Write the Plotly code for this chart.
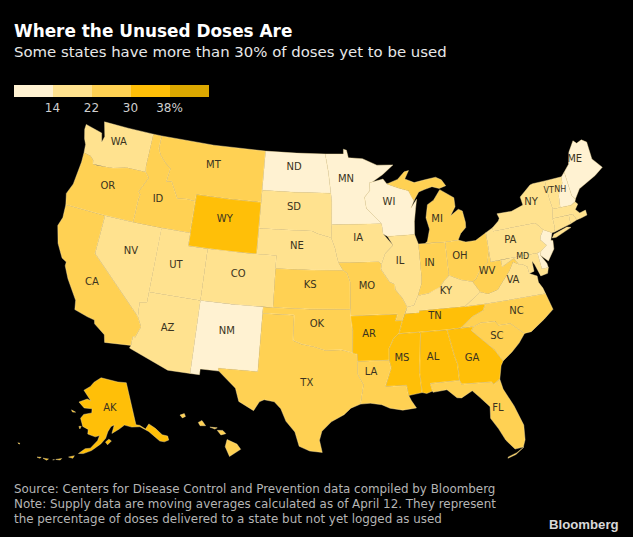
import numpy as np
import plotly.graph_objects as go

# rough state outlines, (lon, lat)
states = {
    "WA": [[(-124.7,48.4),(-123.2,48.15),(-122.75,48.1),(-122.45,47.4),(-122.3,47.9),(-122.8,49.0),(-120,49.0),(-117.03,49.0),(-117.04,46.42),(-116.92,45.99),(-118.98,46.0),(-119.3,45.93),(-120.5,45.7),(-121.2,45.65),(-122.2,45.58),(-122.7,45.6),(-122.8,45.9),(-123.2,46.15),(-124.0,46.27),(-124.1,46.9),(-124.4,47.3),(-124.7,48.0)]],
    "OR": [[(-124.0,46.27),(-123.2,46.15),(-122.8,45.9),(-122.7,45.6),(-122.2,45.58),(-121.2,45.65),(-120.5,45.7),(-119.3,45.93),(-118.98,46.0),(-116.92,45.99),(-116.46,45.6),(-116.85,44.95),(-117.2,44.4),(-116.95,44.2),(-117.03,43.8),(-117.03,42.0),(-120.0,42.0),(-124.2,42.0),(-124.5,42.85),(-124.1,43.7),(-124.05,44.7),(-123.95,45.5)]],
    "CA": [[(-124.2,42.0),(-120.0,42.0),(-120.0,39.0),(-114.63,35.0),(-114.15,34.27),(-114.5,33.4),(-114.72,33.4),(-114.72,32.72),(-117.12,32.53),(-117.3,33.1),(-118.4,33.75),(-118.5,34.03),(-119.2,34.15),(-120.5,34.45),(-120.65,35.15),(-121.9,36.6),(-122.5,37.5),(-122.5,37.8),(-123.0,38.0),(-123.8,39.0),(-124.35,40.3),(-124.1,41.0)]],
    "NV": [[(-120.0,42.0),(-117.03,42.0),(-114.04,42.0),(-114.05,36.2),(-114.74,36.1),(-114.63,35.0),(-120.0,39.0)]],
    "ID": [[(-117.03,49.0),(-116.05,49.0),(-116.05,48.0),(-115.7,47.5),(-115.0,47.0),(-114.35,46.65),(-114.5,45.6),(-113.95,45.7),(-113.45,45.05),(-113.0,44.45),(-112.0,44.55),(-111.05,44.48),(-111.05,42.0),(-114.04,42.0),(-117.03,42.0),(-117.03,43.8),(-116.95,44.2),(-117.2,44.4),(-116.85,44.95),(-116.46,45.6),(-116.92,45.99),(-117.04,46.42)]],
    "MT": [[(-116.05,49.0),(-110,49.0),(-104.05,49.0),(-104.05,45.0),(-107.5,45.0),(-111.05,45.0),(-111.05,44.48),(-112.0,44.55),(-113.0,44.45),(-113.45,45.05),(-113.95,45.7),(-114.5,45.6),(-114.35,46.65),(-115.0,47.0),(-115.7,47.5),(-116.05,48.0)]],
    "WY": [[(-111.05,45),(-107.5,45),(-104.05,45),(-104.05,41),(-107.5,41),(-111.05,41)]],
    "UT": [[(-114.05,42),(-111.05,42),(-111.05,41),(-109.05,41),(-109.05,37),(-114.05,37)]],
    "CO": [[(-109.05,41),(-105.5,41),(-102.05,41),(-102.05,37),(-105.5,37),(-109.05,37)]],
    "AZ": [[(-114.05,37),(-109.05,37),(-109.05,31.33),(-111.07,31.33),(-114.81,32.5),(-114.72,32.72),(-114.72,33.4),(-114.5,33.4),(-114.15,34.27),(-114.63,35.0),(-114.74,36.1),(-114.05,36.2)]],
    "NM": [[(-109.05,37),(-106,37),(-103.0,37),(-103.04,32),(-106.62,32),(-106.53,31.78),(-108.21,31.78),(-108.21,31.33),(-109.05,31.33)]],
    "ND": [[(-104.05,49),(-100.5,49),(-97.23,49),(-96.85,47.6),(-96.56,45.94),(-100.5,45.94),(-104.05,45.94)]],
    "SD": [[(-104.05,45.94),(-100.5,45.94),(-96.56,45.94),(-96.45,45.3),(-96.45,43.5),(-96.5,42.5),(-97.9,42.8),(-98.5,43.0),(-101.5,43.0),(-104.05,43.0)]],
    "NE": [[(-104.05,43),(-101.5,43),(-98.5,43),(-97.9,42.8),(-96.5,42.5),(-96.1,41.7),(-95.9,41.0),(-95.75,40.58),(-95.3,40.0),(-98.5,40),(-102.05,40.0),(-102.05,41),(-104.05,41)]],
    "KS": [[(-102.05,40),(-98.5,40),(-95.3,40),(-94.9,39.8),(-94.6,39.1),(-94.62,37.0),(-98.5,37),(-102.05,37)]],
    "OK": [[(-103.0,37),(-102.05,37),(-98.5,37),(-94.62,37.0),(-94.43,35.4),(-94.48,33.64),(-95.5,33.9),(-97.0,33.85),(-98.0,34.1),(-99.2,34.3),(-100.0,34.56),(-100.0,36.5),(-103.0,36.5)]],
    "TX": [[(-103.0,36.5),(-100,36.5),(-100,34.56),(-99.2,34.3),(-98,34.1),(-97,33.85),(-95.5,33.9),(-94.48,33.64),(-94.04,33.55),(-94.04,33.0),(-94.04,32.0),(-93.55,31.2),(-93.75,30.3),(-93.85,29.7),(-94.7,29.4),(-95.3,28.9),(-96.4,28.35),(-97.2,27.6),(-97.4,26.9),(-97.15,25.96),(-98.2,26.05),(-99.1,26.4),(-99.5,27.5),(-100.3,28.3),(-100.8,29.25),(-101.4,29.77),(-102.3,29.88),(-102.7,29.7),(-103.15,28.98),(-104.5,29.6),(-104.9,30.6),(-106.53,31.78),(-106.62,32),(-103.04,32)]],
    "MN": [[(-97.23,49),(-95.15,49),(-95.15,49.38),(-94.8,49.3),(-94.6,48.7),(-93.0,48.6),(-91.4,48.05),(-89.6,48.0),(-90.8,47.3),(-92.0,46.75),(-92.3,46.7),(-92.3,46.1),(-92.9,45.6),(-92.75,44.75),(-91.2,43.5),(-96.45,43.5),(-96.45,45.3),(-96.56,45.94),(-96.85,47.6)]],
    "IA": [[(-96.45,43.5),(-91.2,43.5),(-91.1,42.7),(-90.15,41.8),(-91.0,41.2),(-91.42,40.38),(-91.7,40.6),(-95.75,40.58),(-95.9,41.0),(-96.1,41.7),(-96.5,42.5)]],
    "MO": [[(-95.75,40.58),(-91.7,40.6),(-91.42,40.38),(-91.5,40.0),(-90.7,39.0),(-90.2,38.8),(-90.2,38.4),(-89.55,37.7),(-89.15,37.0),(-89.4,36.5),(-89.7,36.0),(-90.38,36.0),(-90.15,36.5),(-94.62,36.5),(-94.62,37.0),(-94.6,39.1),(-94.9,39.8),(-95.3,40)]],
    "AR": [[(-94.62,36.5),(-90.15,36.5),(-90.38,36.0),(-89.7,36.0),(-90.1,35.0),(-90.6,34.7),(-91.1,33.9),(-91.15,33.0),(-94.04,33.0),(-94.04,33.55),(-94.48,33.64),(-94.43,35.4)]],
    "LA": [[(-94.04,33.0),(-91.15,33.0),(-91.0,32.4),(-91.6,31.0),(-89.73,31.0),(-89.6,30.2),(-89.4,29.8),(-89.0,29.2),(-90.2,29.1),(-91.3,29.3),(-92.0,29.6),(-93.0,29.75),(-93.85,29.7),(-93.75,30.3),(-93.55,31.2),(-94.04,32.0)]],
    "WI": [[(-92.0,46.75),(-90.8,46.95),(-90.4,46.55),(-89.1,46.15),(-88.1,45.9),(-87.8,45.35),(-87.6,45.1),(-88.0,44.55),(-87.3,45.2),(-87.5,44.5),(-87.75,43.5),(-87.85,42.5),(-90.65,42.5),(-91.1,42.7),(-91.2,43.5),(-92.75,44.75),(-92.9,45.6),(-92.3,46.1),(-92.3,46.7)]],
    "IL": [[(-90.65,42.5),(-87.85,42.5),(-87.55,41.75),(-87.53,39.3),(-87.6,38.7),(-88.05,37.8),(-88.5,37.1),(-89.15,37.0),(-89.55,37.7),(-90.2,38.4),(-90.2,38.8),(-90.7,39.0),(-91.5,40.0),(-91.42,40.38),(-91.0,41.2),(-90.15,41.8)]],
    "IN": [[(-87.55,41.75),(-87.2,41.75),(-86.82,41.76),(-84.8,41.7),(-84.82,39.1),(-85.4,38.7),(-85.8,38.3),(-86.3,38.1),(-87.0,37.9),(-88.05,37.8),(-87.6,38.7),(-87.53,39.3)]],
    "OH": [[(-84.8,41.7),(-83.45,41.72),(-82.7,41.5),(-81.7,41.5),(-80.52,41.98),(-80.52,40.65),(-80.85,39.7),(-81.7,39.2),(-82.2,38.6),(-82.6,38.4),(-83.7,38.65),(-84.82,39.1)]],
    "KY": [[(-89.4,36.5),(-89.15,37.0),(-88.5,37.1),(-88.05,37.8),(-87.0,37.9),(-86.3,38.1),(-85.8,38.3),(-85.4,38.7),(-84.82,39.1),(-83.7,38.65),(-82.6,38.4),(-82.0,37.55),(-83.68,36.6),(-88.07,36.65),(-88.07,36.5)]],
    "TN": [[(-89.7,36.0),(-89.4,36.5),(-88.07,36.5),(-88.07,36.65),(-83.68,36.6),(-81.68,36.59),(-82.0,36.1),(-83.1,35.75),(-84.32,35.0),(-85.6,34.98),(-88.2,35.0),(-90.1,35.0)]],
    "MS": [[(-90.1,35.0),(-88.2,35.0),(-88.1,34.9),(-88.47,31.9),(-88.4,30.35),(-89.6,30.2),(-89.73,31.0),(-91.6,31.0),(-91.0,32.4),(-91.15,33.0),(-91.1,33.9),(-90.6,34.7)]],
    "AL": [[(-88.2,35.0),(-85.6,34.98),(-85.18,32.87),(-85.0,32.3),(-85.0,31.0),(-87.6,31.0),(-87.45,30.4),(-88.0,30.25),(-88.4,30.35),(-88.47,31.9),(-88.1,34.9)]],
    "GA": [[(-85.6,34.98),(-84.32,35.0),(-83.1,35.0),(-83.35,34.7),(-82.6,34.0),(-81.5,33.0),(-80.9,32.05),(-81.15,31.7),(-81.45,30.7),(-82.05,30.37),(-82.2,30.57),(-84.86,30.7),(-85.0,31.0),(-85.0,32.3),(-85.18,32.87)]],
    "FL": [[(-87.6,31.0),(-85.0,31.0),(-84.86,30.7),(-82.2,30.57),(-82.05,30.37),(-81.45,30.7),(-81.3,29.9),(-80.6,28.5),(-80.05,26.9),(-80.15,25.75),(-80.4,25.2),(-81.1,25.15),(-81.75,25.95),(-82.2,26.9),(-82.75,27.8),(-82.65,28.7),(-83.4,29.5),(-84.0,30.1),(-85.0,29.65),(-85.4,29.7),(-86.2,30.4),(-87.45,30.3)],
           [(-80.35,25.2),(-80.6,25.05),(-81.1,24.72),(-81.8,24.52),(-81.75,24.62),(-81.0,24.85),(-80.5,25.15)]],
    "SC": [[(-83.35,34.7),(-83.1,35.0),(-82.4,35.2),(-81.05,35.15),(-80.8,34.82),(-79.67,34.8),(-78.55,33.86),(-79.2,33.2),(-80.0,32.6),(-80.9,32.05),(-81.5,33.0),(-82.6,34.0)]],
    "NC": [[(-81.68,36.59),(-75.87,36.55),(-75.5,35.25),(-76.5,34.65),(-77.9,33.9),(-78.55,33.86),(-79.67,34.8),(-80.8,34.82),(-81.05,35.15),(-82.4,35.2),(-83.1,35.0),(-84.32,35.0),(-83.1,35.75),(-82.0,36.1)]],
    "VA": [[(-83.68,36.6),(-81.68,36.59),(-75.87,36.55),(-76.0,37.0),(-76.3,37.5),(-76.3,38.0),(-77.0,38.3),(-77.05,38.85),(-77.5,39.1),(-77.83,39.13),(-78.35,39.4),(-78.85,38.8),(-79.3,38.4),(-80.3,37.5),(-81.3,37.3),(-82.0,37.55)]],
    "WV": [[(-82.6,38.4),(-82.0,37.55),(-81.3,37.3),(-80.3,37.5),(-79.3,38.4),(-78.85,38.8),(-78.35,39.4),(-77.83,39.13),(-78.2,39.68),(-79.48,39.2),(-79.48,39.72),(-80.52,39.72),(-80.52,40.65),(-80.85,39.7),(-81.7,39.2),(-82.2,38.6)]],
    "MD": [[(-79.48,39.72),(-75.79,39.72),(-75.7,38.46),(-75.05,38.45),(-75.25,38.03),(-75.95,37.95),(-76.3,38.9),(-76.5,39.2),(-76.5,38.4),(-77.0,38.3),(-77.05,38.85),(-77.5,39.1),(-77.83,39.13),(-78.2,39.68),(-79.48,39.2)]],
    "DE": [[(-75.79,39.72),(-75.4,39.8),(-75.55,39.5),(-75.1,38.8),(-75.05,38.45),(-75.7,38.46)]],
    "PA": [[(-80.52,41.98),(-79.76,42.27),(-79.76,42.0),(-75.35,42.0),(-74.7,41.36),(-75.1,40.95),(-75.2,40.65),(-74.72,40.15),(-75.4,39.8),(-75.79,39.72),(-80.52,39.72)]],
    "NJ": [[(-74.7,41.36),(-75.1,40.95),(-75.2,40.65),(-74.72,40.15),(-75.4,39.8),(-75.55,39.5),(-74.9,38.95),(-74.1,39.75),(-74.0,40.4),(-74.2,40.45),(-73.9,41.0)]],
    "NY": [[(-79.76,42.27),(-79.05,42.7),(-78.9,42.9),(-79.05,43.27),(-77.5,43.25),(-76.2,43.55),(-76.3,44.2),(-75.0,44.95),(-74.7,45.0),(-73.35,45.0),(-73.35,43.6),(-73.25,42.75),(-73.5,42.05),(-73.5,41.3),(-73.65,41.0),(-73.9,41.0),(-74.7,41.36),(-75.35,42.0),(-79.76,42.0)],
           [(-74.0,40.6),(-73.75,40.85),(-72.3,41.15),(-71.9,41.05),(-73.6,40.58)]],
    "VT": [[(-73.35,45.0),(-71.5,45.0),(-71.6,44.5),(-72.05,44.1),(-72.3,43.6),(-72.45,42.73),(-73.25,42.75),(-73.35,43.6)]],
    "NH": [[(-71.5,45.0),(-71.08,45.3),(-70.98,43.4),(-70.7,43.07),(-70.82,42.87),(-71.3,42.7),(-72.45,42.73),(-72.3,43.6),(-72.05,44.1),(-71.6,44.5)]],
    "ME": [[(-71.08,45.3),(-70.4,45.8),(-70.25,46.2),(-70.0,46.7),(-69.22,47.46),(-68.9,47.2),(-68.3,47.35),(-67.8,47.07),(-67.8,45.7),(-67.45,45.3),(-67.0,44.85),(-68.0,44.4),(-69.0,44.1),(-70.0,43.75),(-70.7,43.07),(-70.98,43.4)]],
    "MA": [[(-73.5,42.05),(-73.25,42.75),(-72.45,42.73),(-71.3,42.7),(-70.82,42.87),(-70.6,42.65),(-71.0,42.3),(-70.65,41.95),(-70.0,42.05),(-70.0,41.65),(-70.65,41.55),(-71.12,41.5),(-71.38,42.02),(-71.8,42.02)]],
    "CT": [[(-73.5,42.05),(-71.8,42.02),(-71.85,41.32),(-73.65,41.0),(-73.5,41.3)]],
    "RI": [[(-71.8,42.02),(-71.38,42.02),(-71.12,41.5),(-71.85,41.32)]],
    "MI": [[(-86.82,41.76),(-84.8,41.7),(-83.45,41.72),(-83.1,42.2),(-82.5,42.6),(-82.45,43.0),(-82.6,43.9),(-83.0,44.07),(-83.9,43.65),(-83.3,44.3),(-83.3,45.0),(-84.7,45.75),(-85.5,45.0),(-86.2,44.7),(-86.5,43.7),(-86.25,42.8),(-86.6,41.9)],
           [(-90.4,46.55),(-89.2,46.85),(-88.4,47.4),(-87.9,47.47),(-88.4,46.85),(-87.4,46.5),(-86.1,46.65),(-85.0,46.75),(-84.4,46.5),(-84.0,46.0),(-84.75,45.85),(-85.5,46.05),(-86.3,45.9),(-87.0,45.75),(-87.6,45.1),(-87.8,45.35),(-88.1,45.9),(-89.1,46.15)]],
    "HI": [[(-155.9,20.25),(-155.1,19.9),(-154.8,19.5),(-155.7,18.95),(-156.05,19.7)],
           [(-156.7,20.95),(-156.25,20.95),(-156.0,20.7),(-156.4,20.6)],
           [(-158.25,21.55),(-157.95,21.7),(-157.65,21.3),(-158.1,21.3)],
           [(-159.75,22.1),(-159.4,22.22),(-159.3,22.0),(-159.55,21.88)],
           [(-157.3,21.2),(-156.7,21.15),(-156.9,21.05)]],
    "AK": [[(-141,69.65),(-141,60.3),(-139.5,60.0),(-137.5,58.9),(-135.5,59.75),(-133.5,58.4),(-131.8,56.6),(-130.0,55.9),(-130.2,55.0),(-132.0,55.0),(-133.5,55.5),(-135.5,57.5),(-136.5,58.2),(-139.5,59.7),(-143,60),(-146,60.7),(-148.5,60),(-151.8,59.2),(-150.5,61.0),(-152.0,60.7),(-153.5,59.6),(-154.5,58.2),(-156.5,57.0),(-160,55.5),(-163,54.7),(-164.8,54.6),(-162.5,55.8),(-160.5,56.0),(-157.8,57.7),(-157.0,58.8),(-158.8,58.5),(-162,59.0),(-162.0,60.0),(-164.5,60.5),(-165.5,61.5),(-166,62.2),(-164.8,63.1),(-161.0,63.6),(-161,64.5),(-165,64.5),(-168.1,65.6),(-164,66.5),(-162,66.2),(-163.7,67.1),(-166.5,68.3),(-163,69.3),(-161,70.3),(-156.6,71.35),(-152,70.85),(-146,70.15)],
           [(-154.6,57.4),(-153.2,58.0),(-152.2,57.6),(-153.8,56.8)],
           [(-168.2,53.5),(-166.2,54.0),(-166.6,53.4)],
           [(-172.5,52.4),(-170.5,52.9),(-170.9,52.5)],
           [(-176.9,51.9),(-175.0,52.1),(-175.5,51.7)],
           [(-179.0,51.7),(-177.6,51.95),(-178.0,51.65)],
           [(-173.5,52.15),(-172.9,52.3),(-173.2,52.05)],
           [(-187.2,52.9),(-186.4,53.0),(-186.6,52.75)],
           [(-171.0,63.6),(-168.8,63.3),(-170.3,63.2)],
           [(-166.2,60.4),(-165.2,60.5),(-165.6,59.9)]],
}

# one value per state
values = {"AL": 34, "AK": 34, "AZ": 18, "AR": 34, "CA": 26, "CO": 18, "CT": 18, "DE": 10, "FL": 26, "GA": 34,
          "HI": 26, "ID": 26, "IL": 18, "IN": 26, "IA": 18, "KS": 26, "KY": 18, "LA": 26, "ME": 10, "MD": 18,
          "MA": 18, "MI": 26, "MN": 10, "MS": 34, "MO": 26, "MT": 26, "NE": 18, "NV": 18, "NH": 10, "NJ": 10,
          "NM": 10, "NY": 18, "NC": 26, "ND": 10, "OH": 26, "OK": 26, "OR": 26, "PA": 18, "RI": 18, "SC": 26,
          "SD": 18, "TN": 34, "TX": 26, "UT": 18, "VT": 18, "VA": 18, "WA": 18, "WV": 26, "WI": 10, "WY": 34}

labels = {"WA": (-120.6,47.7), "OR": (-120.5,44.2), "CA": (-119.6,36.8), "NV": (-116.6,39.75), "ID": (-115.0,44.1),
          "MT": (-109.7,47.4), "WY": (-107.7,43.4), "UT": (-111.95,39.4), "CO": (-105.7,39.3), "AZ": (-111.7,34.5),
          "NM": (-106.2,34.85), "ND": (-100.7,47.85), "SD": (-100.5,44.8), "NE": (-100.0,41.8), "KS": (-98.55,38.85),
          "OK": (-97.8,35.8), "TX": (-98.6,31.3), "MN": (-94.9,47.0), "IA": (-93.7,42.4), "MO": (-92.96,38.7),
          "AR": (-92.9,35.05), "LA": (-92.85,32.1), "WI": (-90.3,45.1), "IL": (-89.55,40.5), "IN": (-86.6,40.2),
          "OH": (-83.5,40.45), "MI": (-85.35,43.5), "KY": (-85.3,37.9), "TN": (-86.6,36.1), "MS": (-89.98,33.1),
          "AL": (-87.15,33.0), "GA": (-83.65,32.55), "FL": (-82.0,28.5), "SC": (-81.1,34.0), "NC": (-78.9,35.6),
          "VA": (-78.7,38.0), "WV": (-81.05,39.0), "PA": (-78.2,41.1), "NY": (-75.3,43.6), "VT": (-73.2,44.2),
          "NH": (-72.0,44.0), "ME": (-69.6,46.05), "MD": (-77.3,39.65), "AK": (-152.0,64.5)}


def albers(lon, lat, lon0, lat0, p1, p2):
    lon, lat = np.radians(lon), np.radians(lat)
    lon0, lat0, p1, p2 = np.radians([lon0, lat0, p1, p2])
    n = (np.sin(p1) + np.sin(p2)) / 2
    c = np.cos(p1) ** 2 + 2 * n * np.sin(p1)
    rho = np.sqrt(c - 2 * n * np.sin(lat)) / n
    rho0 = np.sqrt(c - 2 * n * np.sin(lat0)) / n
    theta = n * (lon - lon0)
    return rho * np.sin(theta), rho0 - rho * np.cos(theta)


# the page is 633x537, so the axes below are in page pixels
def project(code, lon, lat):
    lon, lat = np.asarray(lon, float), np.asarray(lat, float)
    if code == "AK":
        x, y = albers(lon, lat, -156, 58.5, 55, 65)
        return 102 + 265 * x, 437 - 265 * y
    if code == "HI":
        x, y = albers(lon, lat, -155.5, 19.6, 8, 18)
        return 232 + 750 * x, 448 - 750 * y
    x, y = albers(lon, lat, -96, 37.5, 29.5, 45.5)
    return 336 + 755 * x, 303 - 740 * y


bins = ["#fff2d2", "#ffe28f", "#ffd153", "#ffbf08", "#dca800"]
zmin, zmax = 6, 46
colorscale = []
for i, c in enumerate(bins):
    colorscale += [[i / 5, c], [(i + 1) / 5, c]]

fig = go.Figure()
for code, polys in states.items():
    xs, ys = [], []
    for poly in polys:
        ring = poly + [poly[0]]
        x, y = project(code, [p[0] for p in ring], [p[1] for p in ring])
        xs += list(x) + [None]
        ys += list(y) + [None]
    color = bins[int((values[code] - zmin) / (zmax - zmin) * 5)]
    fig.add_trace(go.Scatter(x=xs, y=ys, mode="lines", fill="toself", fillcolor=color,
                             line=dict(color="#ffe9a8", width=0.4), name=code,
                             hoverinfo="name", showlegend=False))

label_xy = [project("AK" if k == "AK" else "US", *p) for k, p in labels.items()]
fig.add_trace(go.Scatter(
    x=[p[0] for p in label_xy], y=[p[1] for p in label_xy], text=list(labels.keys()),
    mode="text", hoverinfo="skip", showlegend=False,
    textfont=dict(family="DejaVu Sans", color="#3a3320",
                  size=[8 if k in ("VT", "NH", "MD") else 10 for k in labels]),
))

# invisible markers, only here for the legend bar
fig.add_trace(go.Scatter(
    x=[None], y=[None], mode="markers", showlegend=False,
    marker=dict(color=[zmin], cmin=zmin, cmax=zmax, colorscale=colorscale, showscale=True,
                colorbar=dict(orientation="h", x=13.5 / 633, xanchor="left",
                              y=1 - 111 / 537, yanchor="bottom",
                              lenmode="pixels", len=195, thickness=12, outlinewidth=0, ypad=0, xpad=0,
                              tickvals=[14, 22, 30, 38], ticktext=["14", "22", "30", "38%"], ticks="",
                              tickfont=dict(family="DejaVu Sans", size=12, color="#cfcfcf"))),
))

fig.update_layout(
    xaxis=dict(range=[0, 633], visible=False, domain=[0, 1]),
    yaxis=dict(range=[537, 0], visible=False, domain=[0, 1]),
    paper_bgcolor="black", plot_bgcolor="black",
    margin=dict(l=0, r=0, t=0, b=0),
    width=633, height=537,
    font=dict(family="DejaVu Sans"),
)


def text(x, y, s, size, color="#d8d8d8", family="DejaVu Sans", anchor="left"):
    fig.add_annotation(xref="paper", yref="paper", x=x / 633, y=1 - y / 537, text=s, showarrow=False,
                       xanchor=anchor, yanchor="middle", align="left",
                       font=dict(family=family, size=size, color=color))


text(12, 31, "<b>Where the Unused Doses Are</b>", 16.9, "white")
text(12, 52, "Some states have more than 30% of doses yet to be used", 14.9, "#e8e8e8")
text(12, 489, "Source: Centers for Disease Control and Prevention data compiled by Bloomberg", 11.9, "#b5b5b5")
text(12, 504, "Note: Supply data are moving averages calculated as of April 12. They represent", 11.9, "#b5b5b5")
text(12, 519, "the percentage of doses delivered to a state but not yet logged as used", 11.9, "#b5b5b5")
text(621, 524, "<b>Bloomberg</b>", 13.2, "#d8d8d8", "Liberation Sans", "right")

fig.write_html("out.html", config={"displayModeBar": False},
               post_script="document.body.style.margin='0';document.body.style.background='black';")
